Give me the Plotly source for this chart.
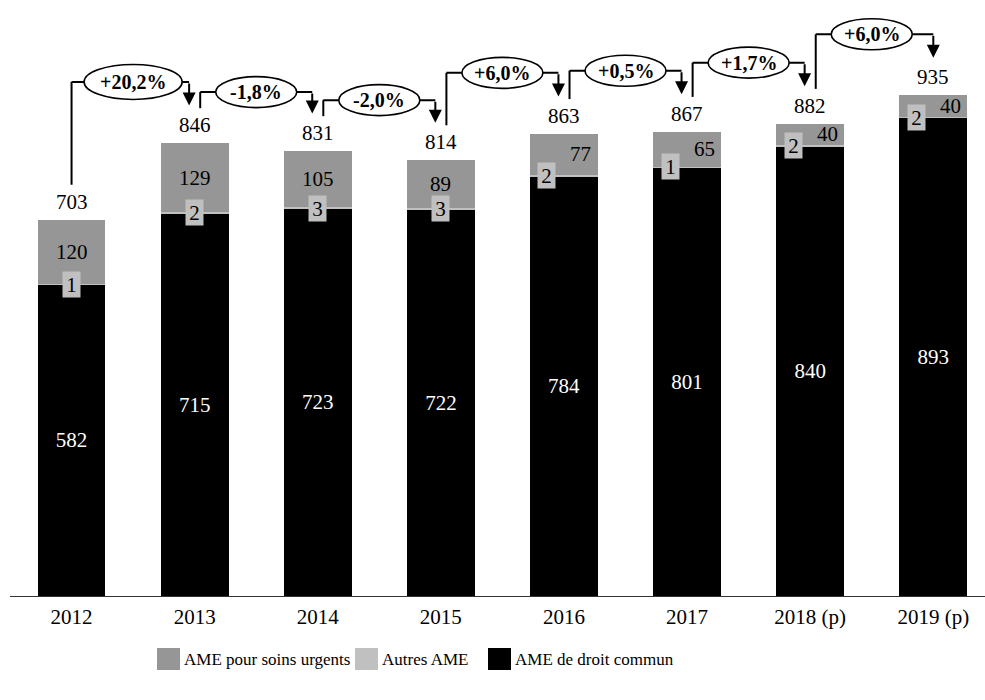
import plotly.graph_objects as go

# Dépenses d'AME (M€)
annees = ["2012", "2013", "2014", "2015", "2016", "2017", "2018 (p)", "2019 (p)"]
droit_commun = [582, 715, 723, 722, 784, 801, 840, 893]
autres_ame = [1, 2, 3, 3, 2, 1, 2, 2]
soins_urgents = [120, 129, 105, 89, 77, 65, 40, 40]
totaux = [703, 846, 831, 814, 863, 867, 882, 935]
evolutions = ["+20,2%", "-1,8%", "-2,0%", "+6,0%", "+0,5%", "+1,7%", "+6,0%"]

C_URG = "#969696"
C_AUT = "#c0c0c0"
C_DC = "#000000"
FONT = "Liberation Serif"
TAILLE = 21

W, H = 985, 700
ML, MR, MT, MB = 10, 0, 0, 104
Y_MAX = 1113
X_RANGE = [-0.5, 7.42]
PX_X = (W - ML - MR) / (X_RANGE[1] - X_RANGE[0])   # pixels per category
PX_Y = (H - MT - MB) / Y_MAX                        # pixels per M€
BAR_W = 0.55

fig = go.Figure()
fig.add_bar(x=annees, y=droit_commun, name="AME de droit commun",
            marker=dict(color=C_DC, line=dict(width=0)), width=BAR_W,
            text=droit_commun, textposition="inside", insidetextanchor="middle",
            textangle=0, textfont=dict(color="white", size=TAILLE, family=FONT),
            showlegend=False)
fig.add_bar(x=annees, y=autres_ame, name="Autres AME",
            marker=dict(color=C_AUT, line=dict(width=0)), width=BAR_W,
            showlegend=False)
fig.add_bar(x=annees, y=soins_urgents, name="AME pour soins urgents",
            marker=dict(color=C_URG, line=dict(width=0)), width=BAR_W,
            showlegend=False)

annotations = []
shapes = []

for i in range(len(annees)):
    petit = soins_urgents[i] < 80
    # valeur des soins urgents, au milieu du segment
    annotations.append(dict(
        x=i, y=droit_commun[i] + autres_ame[i] + soins_urgents[i] / 2,
        text=str(soins_urgents[i]), showarrow=False,
        xshift=17 if petit else 0,
        font=dict(size=TAILLE, family=FONT, color="black")))
    # valeur des autres AME, dans une étiquette grise
    annotations.append(dict(
        x=i, y=droit_commun[i] + autres_ame[i] / 2,
        text=str(autres_ame[i]), showarrow=False,
        xshift=-17 if petit else 0, bgcolor=C_AUT,
        width=17, height=25, borderpad=0,
        font=dict(size=TAILLE, family=FONT, color="black")))
    # total au-dessus de la barre
    annotations.append(dict(
        x=i, y=totaux[i], yanchor="bottom", yshift=4,
        text=str(totaux[i]), showarrow=False,
        font=dict(size=TAILLE, family=FONT, color="black")))

# flèches d'évolution d'une année sur l'autre
for i, evo in enumerate(evolutions):
    hausse = evo.startswith("+")
    xs = i + (0 if i == 0 else 0.045)
    xe = i + 1 - (0 if i == len(evolutions) - 1 else 0.045)
    ys = totaux[i] + 65
    niveau = max(totaux[i], totaux[i + 1]) + (114 if hausse else 95)
    y_pointe = totaux[i + 1] + 70
    ligne = dict(color="black", width=2)
    shapes.append(dict(type="line", xref="x", yref="y",
                       x0=xs, x1=xs, y0=ys, y1=niveau, line=ligne))
    shapes.append(dict(type="line", xref="x", yref="y",
                       x0=xs, x1=xe, y0=niveau, y1=niveau, line=ligne))
    annotations.append(dict(
        x=xe, y=y_pointe, xref="x", yref="y", text="",
        showarrow=True, arrowhead=2, arrowsize=1.3, arrowwidth=2,
        arrowcolor="black", ax=0, ay=-(niveau - y_pointe) * PX_Y,
        standoff=0, startstandoff=0))
    large = len(evo) > 5
    demi_l = (98 if large else 81) / 2 / PX_X
    demi_h = (35 if large else 31) / 2 / PX_Y
    shapes.append(dict(type="circle", xref="x", yref="y",
                       x0=i + 0.5 - demi_l, x1=i + 0.5 + demi_l,
                       y0=niveau - demi_h, y1=niveau + demi_h,
                       fillcolor="white", line=dict(color="black", width=1.6)))
    annotations.append(dict(
        x=i + 0.5, y=niveau, text=f"<b>{evo}</b>", showarrow=False,
        font=dict(size=20, family=FONT, color="black")))

# légende
def px_x(px):
    return (px - ML) / (W - ML - MR)

def px_y(py):
    return (H - MB - py) / (H - MT - MB)

legende = [("AME pour soins urgents", C_URG, 157),
           ("Autres AME", C_AUT, 355),
           ("AME de droit commun", C_DC, 488)]
for libelle, couleur, x0 in legende:
    shapes.append(dict(type="rect", xref="paper", yref="paper",
                       x0=px_x(x0), x1=px_x(x0 + 23), y0=px_y(670), y1=px_y(648),
                       fillcolor=couleur, line=dict(width=0)))
    annotations.append(dict(
        xref="paper", yref="paper", x=px_x(x0 + 25), y=px_y(659),
        xanchor="left", yanchor="middle", text=libelle, showarrow=False,
        font=dict(size=17, family=FONT, color="black")))

fig.update_layout(
    width=W, height=H,
    margin=dict(l=ML, r=MR, t=MT, b=MB),
    barmode="stack",
    paper_bgcolor="white", plot_bgcolor="white",
    font=dict(family=FONT, color="black"),
    shapes=shapes, annotations=annotations,
    xaxis=dict(type="category", range=X_RANGE, showline=True, linecolor="#333333",
               linewidth=1, ticks="outside", ticklen=2, tickcolor="rgba(0,0,0,0)",
               tickfont=dict(size=TAILLE, family=FONT, color="black"),
               showgrid=False, zeroline=False),
    yaxis=dict(range=[0, Y_MAX], visible=False, showgrid=False, zeroline=False),
)

fig.write_html("out.html")
